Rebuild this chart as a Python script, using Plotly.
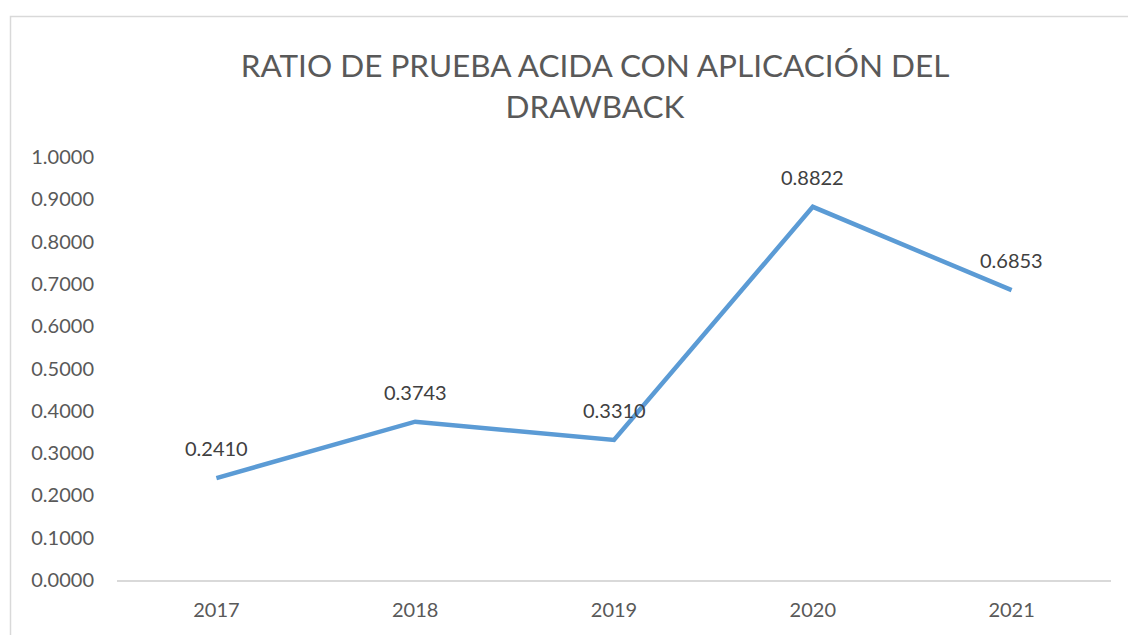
import plotly.graph_objects as go

years = ["2017", "2018", "2019", "2020", "2021"]
ratios = [0.2410, 0.3743, 0.3310, 0.8822, 0.6853]
labels = ["0.2410", "0.3743", "0.3310", "0.8822", "0.6853"]
title_text = "RATIO DE PRUEBA ACIDA CON APLICACIÓN DEL<br>DRAWBACK"

FONT = "Lato"

fig = go.Figure()
fig.add_trace(go.Scatter(
    x=years, y=ratios, mode="lines",
    line=dict(color="#5B9BD5", width=4.5),
    hoverinfo="x+y", showlegend=False,
))

for i, (y, t) in enumerate(zip(ratios, labels)):
    fig.add_annotation(x=i, y=y, xref="x", yref="y", text=t, showarrow=False,
                       yshift=30, font=dict(family=FONT, size=20, color="#404040"))

fig.update_layout(
    width=1128, height=635,
    margin=dict(l=117, r=17, t=157, b=55),
    paper_bgcolor="white", plot_bgcolor="white",
    title=dict(text=title_text, x=595/1128, xanchor="center",
               y=1 - 77/635, yanchor="top",
               font=dict(family=FONT, size=31.5, color="#595959")),
    xaxis=dict(type="category", range=[-0.5, 4.5],
               showgrid=False, showline=True, linecolor="#D9D9D9", linewidth=1.5,
               ticks="", tickfont=dict(family=FONT, size=20, color="#595959"),
               ticklabelstandoff=11, zeroline=False),
    yaxis=dict(range=[0, 1], dtick=0.1, tickformat=".4f", showgrid=False,
               showline=False, zeroline=False, ticks="",
               tickfont=dict(family=FONT, size=20, color="#595959"),
               ticklabelstandoff=22),
    shapes=[dict(type="rect", xref="paper", yref="paper",
                 x0=(10.5 - 117) / 994, x1=(1140 - 117) / 994,
                 y0=(580 - 650) / 423, y1=(580 - 16.5) / 423,
                 line=dict(color="#D9D9D9", width=1.5), layer="below")],
)

fig.write_html("out.html", config={"displayModeBar": False},
               post_script="document.body.style.margin='0';document.body.style.overflow='hidden';")
